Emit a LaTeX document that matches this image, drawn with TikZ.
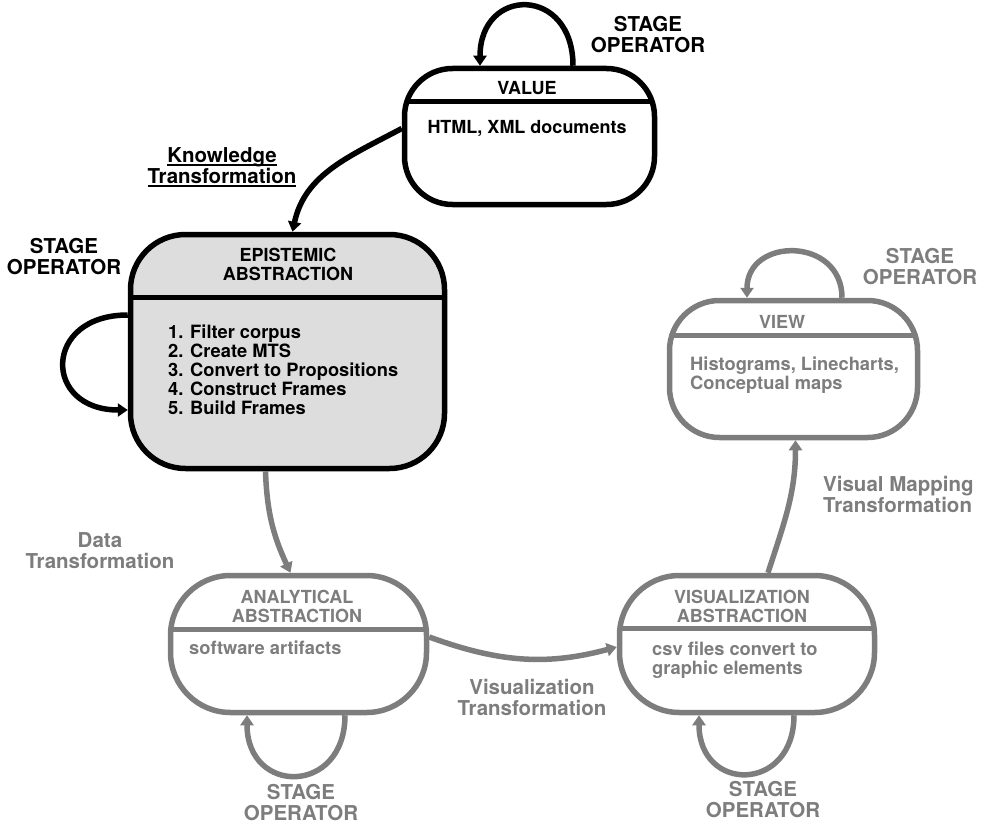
\documentclass[tikz,border=0pt]{standalone}
\usepackage{fontspec}
\setmainfont{TeX Gyre Heros}
\usetikzlibrary{arrows.meta}

\definecolor{ink}{RGB}{0,0,0}
\definecolor{mute}{RGB}{125,125,125}
\definecolor{shade}{RGB}{221,221,221}

% underline with a heavier rule than the default one
\newcommand\heavyul[1]{\setbox0\hbox{#1}\rlap{\rule[-3.5pt]{\wd0}{1.8pt}}\box0}

\tikzset{
  statebox/.style={draw, line width=5.5pt, inner sep=0pt, rounded corners=#1, fill=white},
  divider/.style 2 args={path picture={
      \draw[#1, line width=5pt]
        ([yshift=-#2]path picture bounding box.north west) --
        ([yshift=-#2]path picture bounding box.north east);}},
  flow/.style={line width=5.5pt, -{Triangle[length=10pt, width=13pt]}},
  titletext/.style={font=\fontsize{18}{18.5}\selectfont\bfseries, inner sep=0pt, align=center},
  bodytext/.style={font=\fontsize{18.3}{19}\selectfont\bfseries, inner sep=0pt, align=left},
  flowlabel/.style={font=\fontsize{20.5}{21.5}\selectfont\bfseries, inner sep=0pt},
  oplabel/.style={font=\fontsize{20.5}{21}\selectfont\bfseries, inner sep=0pt, align=center},
}

\begin{document}
\begin{tikzpicture}[x=1pt, y=-1pt]
\useasboundingbox (0,0) rectangle (985,824);

% ---- stage boxes ----
\node[statebox=48pt, draw=ink, divider={ink}{33.5pt},
      minimum width=250pt, minimum height=136pt] (value) at (529.5,136.5) {};
\node[statebox=55pt, draw=ink, fill=shade, divider={ink}{63pt},
      minimum width=314pt, minimum height=234pt] (epi) at (287.5,351.5) {};
\node[statebox=60pt, draw=mute, divider={mute}{53.5pt},
      minimum width=256pt, minimum height=137pt] (ana) at (298.5,644) {};
\node[statebox=60pt, draw=mute, divider={mute}{52.5pt},
      minimum width=255pt, minimum height=137pt] (vis) at (747,644) {};
\node[statebox=50pt, draw=mute, divider={mute}{35pt},
      minimum width=248pt, minimum height=137pt] (view) at (793.5,369) {};

% ---- box contents ----
\node[titletext, anchor=base] (valuet) at (527,95) {VALUE};
\node[titletext, anchor=base] (valueb) at (527,133.5) {HTML, XML documents};

\node[titletext, anchor=north] (epit) at (288,248) {EPISTEMIC\\ABSTRACTION};
\node[bodytext, anchor=north west] (epib) at (168,325)
  {1. Filter corpus\\2. Create MTS\\3. Convert to Propositions\\4. Construct Frames\\5. Build Frames};

\node[titletext, text=mute, anchor=north] (anat) at (297,590) {ANALYTICAL\\ABSTRACTION};
\node[bodytext, text=mute, anchor=base west] (anab) at (189,654) {software artifacts};

\node[titletext, text=mute, anchor=north] (vist) at (742,590) {VISUALIZATION\\ABSTRACTION};
\node[bodytext, text=mute, anchor=north west] (visb) at (652,642)
  {csv files convert to\\graphic elements};

\node[titletext, text=mute, anchor=base] (viewt) at (782,328) {VIEW};
\node[bodytext, text=mute, anchor=north west] (viewb) at (690,356.5)
  {Histograms, Linecharts,\\Conceptual maps};

% ---- transformations between stages ----
\draw[flow, ink] ([yshift=8pt]value.west) to[out=208, in=78] ([xshift=5pt]epi.north);
\draw[flow, mute] ([xshift=-22pt]epi.south) to[out=-88, in=115] ([xshift=-8pt]ana.north);
\draw[flow, mute] ([yshift=7pt]ana.east) to[out=-20, in=195] ([yshift=-3pt]vis.west);
\draw[flow, mute] ([xshift=21pt]vis.north) to[out=72, in=-90] ([xshift=2pt]view.south);

% ---- stage operators (self loops) ----
\draw[flow, ink] ([xshift=43.5pt]value.north) to[out=90, in=90, looseness=2.2] ([xshift=-49.5pt]value.north);
\draw[flow, ink] ([yshift=36.5pt]epi.west) to[out=180, in=180, looseness=2.3] ([yshift=-58.5pt]epi.west);
\draw[flow, mute] ([xshift=46.5pt]ana.south) to[out=-90, in=-90, looseness=2.1] ([xshift=-51.5pt]ana.south);
\draw[flow, mute] ([xshift=47pt]vis.south) to[out=-90, in=-90, looseness=2.1] ([xshift=-48pt]vis.south);
\draw[flow, mute] ([xshift=48.5pt]view.north) to[out=90, in=90, looseness=1.65] ([xshift=-46.5pt]view.north);

% ---- labels ----
\node[oplabel, text=ink, anchor=north] (opvalue) at (648,16) {STAGE\\OPERATOR};
\node[oplabel, text=ink, anchor=north] (opepi) at (64,238) {STAGE\\OPERATOR};
\node[oplabel, text=mute, anchor=north] (opview) at (920,248) {STAGE\\OPERATOR};
\node[oplabel, text=mute, anchor=north] (opana) at (301,784) {STAGE\\OPERATOR};
\node[oplabel, text=mute, anchor=north] (opvis) at (763,781) {STAGE\\OPERATOR};

\node[flowlabel, text=ink, align=center, anchor=north] (lknow) at (222,147)
  {\heavyul{Knowledge}\\\heavyul{Transformation}};
\node[flowlabel, text=mute, align=center, anchor=north] (ldata) at (100,532)
  {Data\\Transformation};
\node[flowlabel, text=mute, align=center, anchor=north] (lvis) at (532,679)
  {Visualization\\Transformation};
\node[flowlabel, text=mute, align=left, anchor=north west] (lmap) at (823,476)
  {Visual Mapping\\Transformation};
\end{tikzpicture}
\end{document}
